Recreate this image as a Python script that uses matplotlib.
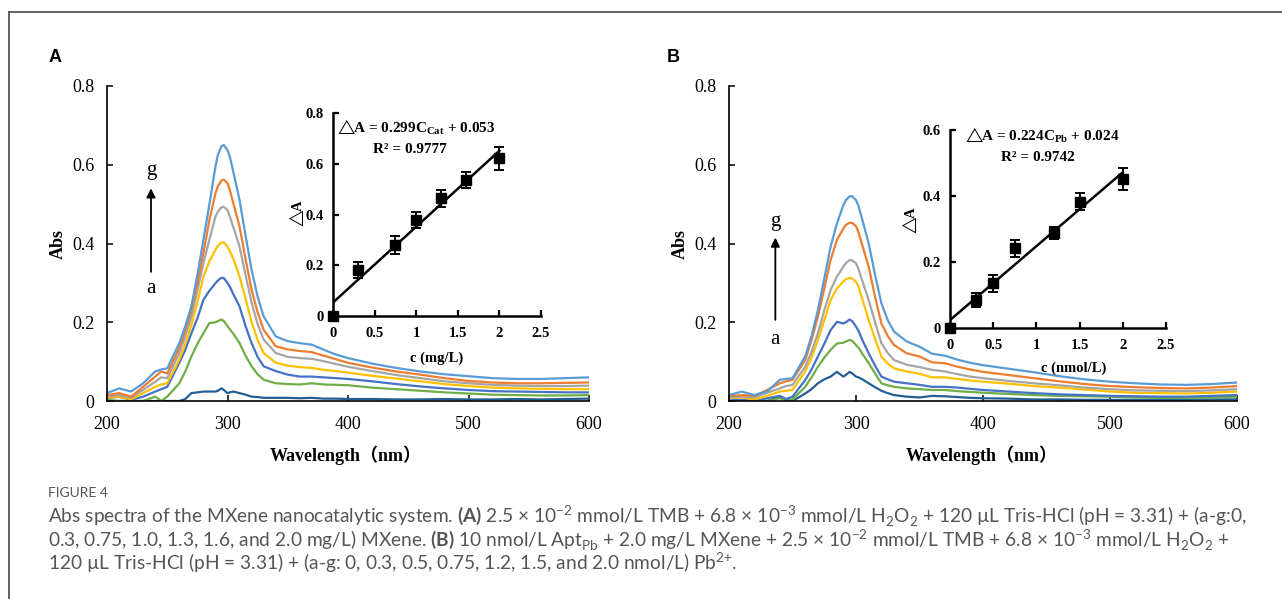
import matplotlib
matplotlib.use("Agg")
from matplotlib import pyplot as plt
from matplotlib.lines import Line2D
from matplotlib.ticker import FuncFormatter
import numpy as np

plt.rcParams['mathtext.fontset'] = 'custom'
plt.rcParams['mathtext.rm'] = 'Liberation Serif:bold'
plt.rcParams['mathtext.sf'] = 'Lato'
plt.rcParams['mathtext.bf'] = 'Lato:bold'
plt.rcParams['font.family'] = ['Liberation Serif', 'Noto Sans CJK SC', 'DejaVu Sans']

# wavelength grid (nm)
wl = [200, 210, 220, 230, 240, 245, 250, 260, 265, 270, 275, 280, 285,
      290, 292, 295, 297, 300, 302,
      305, 310, 315, 320, 325, 330, 340, 350, 360, 370, 380, 390, 400, 420,
      440, 460, 480, 500, 520, 540, 560, 580, 600]

# panel A spectra, curves a..g
A_a = [0, 0, 0, 0, 0, 0, 0, 0, .005, .02, .022, .024, .024,
       .024, .026, .032, .028, .02, .022,
       .024, .02, .016, .011, .01, .008, .008, .008, .007, .008, .006, .006, .005, .005,
       .004, .004, .005, .004, .004, .005, .004, .005, .006]
A_b = [.003, 0, 0, 0, .011, 0, .011, .045, .075, .113, .145, .172, .198,
       .2, .203, .207, .203, .19, .182,
       .17, .147, .115, .088, .068, .054, .045, .043, .042, .045, .042, .041, .04, .034,
       .03, .026, .022, .019, .016, .015, .014, .014, .015]
A_c = [.007, .011, .003, .011, .024, .03, .036, .097, .13, .172, .21, .257, .28,
       .299, .306, .313, .312, .30, .29,
       .27, .24, .19, .147, .112, .088, .076, .067, .062, .062, .06, .058, .056, .05,
       .043, .037, .032, .028, .025, .024, .023, .022, .022]
A_d = [.008, .011, .004, .02, .036, .042, .045, .105, .145, .193, .25, .316, .355,
       .384, .394, .403, .402, .392, .38,
       .36, .316, .26, .2, .155, .122, .097, .09, .086, .084, .079, .076, .072, .064,
       .057, .05, .043, .038, .034, .032, .031, .030, .030]
A_e = [.011, .015, .008, .028, .049, .06, .058, .122, .165, .214, .28, .35, .41,
       .468, .481, .492, .493, .485, .468,
       .44, .392, .32, .25, .195, .156, .122, .112, .109, .107, .101, .094, .087, .076,
       .066, .058, .05, .045, .041, .039, .038, .038, .039]
A_f = [.015, .020, .011, .036, .062, .075, .07, .135, .18, .23, .30, .375, .46,
       .527, .545, .56, .562, .553, .535,
       .50, .443, .36, .283, .225, .181, .139, .131, .127, .124, .115, .106, .097, .085,
       .075, .067, .058, .051, .047, .045, .045, .046, .047]
A_g = [.020, .032, .024, .045, .075, .080, .083, .147, .19, .24, .32, .409, .50,
       .595, .625, .647, .65, .637, .62,
       .58, .51, .42, .333, .265, .215, .164, .152, .147, .143, .13, .118, .109, .095,
       .084, .075, .068, .063, .058, .056, .056, .058, .06]

# panel B spectra, curves a..g
B_a = [0, 0, 0, 0, .011, .003, 0, .019, .03, .045, .055, .062, .074,
       .062, .066, .074, .07, .062, .06,
       .055, .045, .035, .026, .02, .015, .011, .009, .013, .012, .01, .008, .007, .006,
       .004, .004, .003, .003, .003, .003, .003, .004, .004]
B_b = [0, 0, 0, 0, .007, .002, .004, .036, .06, .087, .11, .13, .146,
       .148, .151, .155, .153, .142, .135,
       .12, .096, .07, .045, .04, .036, .032, .03, .028, .028, .025, .023, .021, .018,
       .015, .013, .012, .011, .009, .008, .008, .009, .011]
B_c = [.003, .003, 0, .007, .013, .005, .011, .053, .08, .113, .145, .18, .201,
       .197, .2, .207, .203, .189, .178,
       .155, .121, .09, .062, .055, .049, .045, .041, .036, .036, .034, .031, .028, .024,
       .02, .017, .015, .013, .012, .011, .011, .013, .015]
B_d = [.007, .009, .004, .013, .024, .026, .028, .075, .11, .155, .205, .256, .286,
       .303, .309, .313, .311, .303, .29,
       .258, .206, .158, .113, .095, .083, .075, .069, .06, .06, .056, .052, .049, .044,
       .038, .034, .029, .024, .021, .02, .019, .021, .024]
B_e = [.009, .011, .009, .021, .032, .038, .041, .087, .125, .172, .23, .282, .316,
       .341, .35, .358, .357, .35, .335,
       .305, .256, .2, .147, .122, .104, .092, .086, .079, .075, .068, .062, .058, .051,
       .045, .04, .034, .03, .027, .026, .025, .027, .03]
B_f = [.013, .015, .013, .028, .045, .05, .054, .104, .155, .214, .285, .358, .409,
       .438, .447, .453, .452, .444, .428,
       .395, .341, .265, .197, .165, .142, .121, .113, .098, .096, .087, .08, .074, .066,
       .058, .05, .043, .038, .035, .033, .032, .034, .038]
B_g = [.015, .024, .015, .024, .054, .056, .058, .113, .165, .231, .31, .392, .451,
       .497, .51, .52, .52, .51, .495,
       .46, .40, .32, .248, .205, .176, .151, .138, .12, .115, .105, .097, .091, .082,
       .073, .063, .055, .049, .045, .042, .041, .043, .047]

colors = ['#255E91', '#70AD47', '#4472C4', '#FFC000', '#A5A5A5', '#ED7D31', '#5B9BD5']

# inset calibration data
conc_A = [0, 0.3, 0.75, 1.0, 1.3, 1.6, 2.0]
dA_A = [0.0, 0.181, 0.28, 0.378, 0.464, 0.536, 0.622]
err_A = [0.0, 0.032, 0.035, 0.033, 0.033, 0.033, 0.045]
slope_A, icpt_A = 0.299, 0.053

conc_B = [0, 0.3, 0.5, 0.75, 1.2, 1.5, 2.0]
dA_B = [0.0, 0.085, 0.135, 0.241, 0.287, 0.383, 0.451]
err_B = [0.0, 0.022, 0.025, 0.025, 0.018, 0.025, 0.033]
slope_B, icpt_B = 0.224, 0.024

W, H = 1282, 599
fig = plt.figure(figsize=(W / 100, H / 100), dpi=100)


def box(x0, y_top, w, h):
    return [x0 / W, 1 - (y_top + h) / H, w / W, h / H]


def zero_fmt(v, p):
    return '0' if abs(v) < 1e-9 else f'{v:.1f}'


def main_panel(rect, curves, arrow_x, arrow_lo, arrow_hi, a_y, g_y):
    ax = fig.add_axes(rect)
    for y, c in zip(curves, colors):
        ax.plot(wl, y, color=c, lw=1.6, solid_joinstyle='round')
    ax.set_xlim(200, 600)
    ax.set_ylim(0, 0.8)
    ax.set_xticks([200, 300, 400, 500, 600])
    ax.set_yticks([0, 0.2, 0.4, 0.6, 0.8])
    ax.yaxis.set_major_formatter(FuncFormatter(zero_fmt))
    for s in ['top', 'right']:
        ax.spines[s].set_visible(False)
    for s in ['left', 'bottom']:
        ax.spines[s].set_linewidth(1.2)
    ax.tick_params(direction='in', length=4, width=1.1, labelsize=13)
    ax.tick_params(axis='x', pad=11)
    ax.tick_params(axis='y', pad=9)
    ax.annotate('', xy=(arrow_x, arrow_hi), xytext=(arrow_x, arrow_lo),
                arrowprops=dict(arrowstyle='-|>', color='black', lw=1.3,
                                mutation_scale=13, shrinkA=0, shrinkB=0))
    ax.text(arrow_x, g_y, 'g', ha='center', va='center', fontsize=15)
    ax.text(arrow_x, a_y, 'a', ha='center', va='center', fontsize=15)
    return ax


def inset(rect, conc, dA, err, slope, icpt, ymax, eq, r2, eq_xy, r2_xy):
    ax = fig.add_axes(rect)
    ax.set_facecolor('none')
    ax.errorbar(conc, dA, yerr=err, fmt='s', color='black', ms=6.5,
                elinewidth=1.4, capsize=3.5, capthick=1.4, clip_on=False, zorder=3)
    xs = np.array([0, max(conc)])
    ax.plot(xs, slope * xs + icpt, color='black', lw=1.8)
    ax.set_xlim(0, 2.5)
    ax.set_ylim(0, ymax)
    ax.set_xticks([0, 0.5, 1, 1.5, 2, 2.5])
    ax.set_yticks(np.arange(0, ymax + 1e-9, 0.2))
    ax.xaxis.set_major_formatter(FuncFormatter(lambda v, p: f'{v:g}'))
    ax.yaxis.set_major_formatter(FuncFormatter(zero_fmt))
    for s in ['top', 'right']:
        ax.spines[s].set_visible(False)
    for s in ['left', 'bottom']:
        ax.spines[s].set_linewidth(1.8)
    ax.tick_params(direction='in', length=4, width=1.6, labelsize=10.5)
    ax.tick_params(axis='x', pad=8)
    ax.tick_params(axis='y', pad=7)
    for lbl in ax.get_xticklabels() + ax.get_yticklabels():
        lbl.set_fontweight('bold')
    ax.text(eq_xy[0], eq_xy[1], eq, ha='left', va='center', fontsize=11,
            fontweight='bold', family='Liberation Serif')
    ax.text(r2_xy[0], r2_xy[1], r2, ha='center', va='center', fontsize=11,
            fontweight='bold', family='Liberation Serif')
    return ax


curves_A = [A_a, A_b, A_c, A_d, A_e, A_f, A_g]
curves_B = [B_a, B_b, B_c, B_d, B_e, B_f, B_g]

main_panel(box(107, 86, 482, 315), curves_A, 236.5, 0.328, 0.54, 0.286, 0.586)
main_panel(box(729, 86, 508, 315), curves_B, 236.5, 0.206, 0.415, 0.155, 0.455)

inset(box(333, 113, 208, 203), conc_A, dA_A, err_A, slope_A, icpt_A, 0.8,
      r'$\triangle\!\!$A = 0.299C$_{\mathrm{Cat}}$ + 0.053', 'R² = 0.9777',
      (0.03, 0.745), (0.92, 0.658))
inset(box(950, 130, 216, 198), conc_B, dA_B, err_B, slope_B, icpt_B, 0.6,
      r'$\triangle\!\!$A = 0.224C$_{\mathrm{Pb}}$ + 0.024', 'R² = 0.9742',
      (0.15, 0.585), (1.02, 0.518))


def ftext(x, y, s, **kw):
    fig.text(x / W, 1 - y / H, s, **kw)


bold13 = dict(fontsize=13, fontweight='bold', ha='center', va='center')
ftext(346, 455, 'Wavelength（nm）', **bold13)
ftext(982, 455, 'Wavelength（nm）', **bold13)
ftext(58, 244, 'Abs', rotation=90, **bold13)
ftext(680, 244, 'Abs', rotation=90, **bold13)

bold10 = dict(fontsize=10.5, fontweight='bold', ha='center', va='center')
ftext(437, 358, 'c (mg/L)', **bold10)
ftext(1074, 368, 'c (nmol/L)', **bold10)
ftext(297, 214, r'$\triangle\!\!$A', rotation=90, **bold10)
ftext(910, 221, r'$\triangle\!\!$A', rotation=90, **bold10)

ftext(55, 58, 'A', family='Liberation Sans', fontsize=13, fontweight='bold',
      ha='center', va='center')
ftext(673, 58, 'B', family='Liberation Sans', fontsize=13, fontweight='bold',
      ha='center', va='center')

# caption
cap = dict(family='Lato', fontsize=13.8, color='#555555', ha='left', va='baseline')
ftext(48, 497, 'FIGURE 4', family='Lato', fontsize=10, color='#555555',
      ha='left', va='baseline')
ftext(48, 522, r'Abs spectra of the MXene nanocatalytic system. $\mathbf{(A)}$ 2.5 × 10$^{\mathsf{-2}}$ '
      r'mmol/L TMB + 6.8 × 10$^{\mathsf{-3}}$ mmol/L H$_{\mathsf{2}}$O$_{\mathsf{2}}$ + 120 µL Tris-HCl '
      r'(pH = 3.31) + (a-g:0,', **cap)
ftext(48, 546, r'0.3, 0.75, 1.0, 1.3, 1.6, and 2.0 mg/L) MXene. $\mathbf{(B)}$ 10 nmol/L Apt$_{\mathsf{Pb}}$ '
      r'+ 2.0 mg/L MXene + 2.5 × 10$^{\mathsf{-2}}$ mmol/L TMB + 6.8 × 10$^{\mathsf{-3}}$ mmol/L '
      r'H$_{\mathsf{2}}$O$_{\mathsf{2}}$ +', **cap)
ftext(48, 570, r'120 µL Tris-HCl (pH = 3.31) + (a-g: 0, 0.3, 0.5, 0.75, 1.2, 1.5, and 2.0 nmol/L) '
      r'Pb$^{\mathsf{2{+}}}$.', **cap)

# frame lines
fig.add_artist(Line2D([9 / W, 1], [1 - 12 / H, 1 - 12 / H], color='#555555', lw=1.3))
fig.add_artist(Line2D([9 / W, 9 / W], [0, 1 - 12 / H], color='#555555', lw=1.3))

fig.savefig('out.png', dpi=100)
